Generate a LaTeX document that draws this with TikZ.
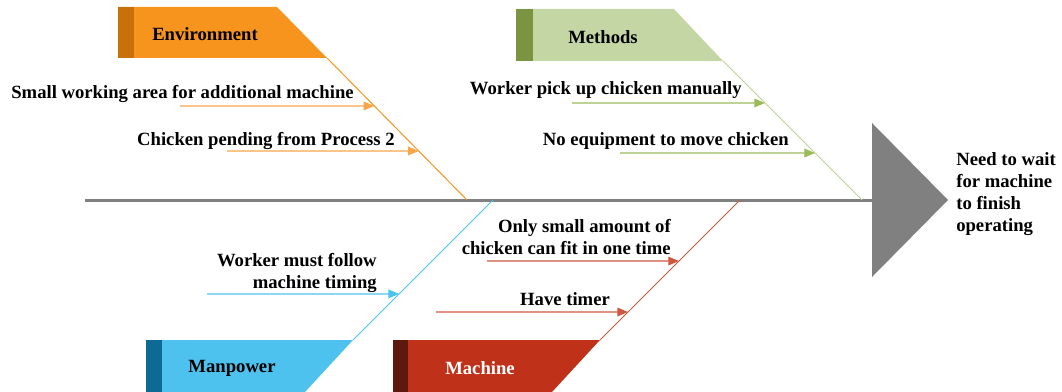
\documentclass[tikz,border=0pt]{standalone}
\usepackage{fontspec}
\setmainfont{Liberation Serif}
\usetikzlibrary{arrows.meta,calc,positioning}
\definecolor{envfill}{HTML}{F7941D}
\definecolor{envdark}{HTML}{C8700A}
\definecolor{envline}{HTML}{F9A54A}
\definecolor{metfill}{HTML}{C5D6A5}
\definecolor{metdark}{HTML}{7A9441}
\definecolor{metline}{HTML}{9BBB59}
\definecolor{manfill}{HTML}{4DC2EF}
\definecolor{mandark}{HTML}{0C6A94}
\definecolor{macfill}{HTML}{C0311A}
\definecolor{macdark}{HTML}{5F180E}
\definecolor{macline}{HTML}{D0573F}
\definecolor{spinegray}{HTML}{808080}
\tikzset{
  txt/.style={font=\bfseries\fontsize{14}{16.5}\selectfont, inner sep=0pt},
  bone/.style={line width=0.75pt},
  sub/.style={line width=0.9pt, -{Triangle[length=8pt,width=6.5pt]}},
}

\begin{document}
\begin{tikzpicture}[x=0.75pt,y=-0.75pt]
    \useasboundingbox (0,0) rectangle (1062,392);
    % spine and head
    \coordinate (tail) at (85,200);
    \coordinate (head) at (872,200);
    \draw[spinegray, line width=2.25pt] (tail) -- (head);
    \fill[spinegray] (872,123) -- (948,200) -- (872,277) -- cycle;
    \node[txt, anchor=west, align=left] (effect) at (956,194) {Need to wait\\for machine\\to finish\\operating};

    % Environment
    \fill[envfill] (118,7) -- (277,7) -- (327,58) -- (118,58) -- cycle;
    \fill[envdark] (118,7) rectangle (134,58);
    \node[txt] (env) at (205,34) {Environment};
    \coordinate (envA) at (327,58);
    \coordinate (envB) at (467,200);
    \draw[bone, envfill] (envA) -- (envB);
    \coordinate (env1) at ($(envA)!0.338!(envB)$);
    \coordinate (env2) at ($(envA)!0.655!(envB)$);
    \draw[sub, envline] (180,106) -- (env1);
    \draw[sub, envline] (227,151) -- (env2);
    \node[txt, anchor=east] (envt1) at (354,94) {Small working area for additional machine};
    \node[txt, anchor=east] (envt2) at (395,141) {Chicken pending from Process 2};

    % Methods
    \fill[metfill] (516,9) -- (674,9) -- (723,61) -- (516,61) -- cycle;
    \fill[metdark] (516,9) rectangle (533,61);
    \node[txt] (met) at (603,37) {Methods};
    \coordinate (metA) at (723,61);
    \coordinate (metB) at (862,200);
    \draw[bone, metfill!80!metline] (metA) -- (metB);
    \coordinate (met1) at ($(metA)!0.302!(metB)$);
    \coordinate (met2) at ($(metA)!0.662!(metB)$);
    \draw[sub, metline] (572,103) -- (met1);
    \draw[sub, metline] (620,153) -- (met2);
    \node[txt, anchor=east] (mett1) at (742,90) {Worker pick up chicken manually};
    \node[txt, anchor=east] (mett2) at (789,141) {No equipment to move chicken};

    % Manpower
    \fill[manfill] (146,340) -- (353,340) -- (305,392) -- (146,392) -- cycle;
    \fill[mandark] (146,340) rectangle (162,392);
    \node[txt] (man) at (232,368) {Manpower};
    \coordinate (manA) at (353,340);
    \coordinate (manB) at (493,200);
    \draw[bone, manfill] (manA) -- (manB);
    \coordinate (man1) at ($(manA)!0.329!(manB)$);
    \draw[sub, manfill] (207,294) -- (man1);
    \node[txt, anchor=east, align=right] (mant1) at (377,273) {Worker must follow\\machine timing};

    % Machine
    \fill[macfill] (393,340) -- (600,340) -- (552,392) -- (393,392) -- cycle;
    \fill[macdark] (393,340) rectangle (408,392);
    \node[txt, white] (mac) at (480,368) {Machine};
    \coordinate (macA) at (600,340);
    \coordinate (macB) at (740,200);
    \draw[bone, macline] (macA) -- (macB);
    \coordinate (mac1) at ($(macA)!0.564!(macB)$);
    \coordinate (mac2) at ($(macA)!0.2!(macB)$);
    \draw[sub, macline] (487,261) -- (mac1);
    \draw[sub, macline] (436,312) -- (mac2);
    \node[txt, anchor=east, align=right] (mact1) at (671,237) {Only small amount of\\chicken can fit in one time};
    \node[txt] (mact2) at (565,299) {Have timer};
\end{tikzpicture}
\end{document}
